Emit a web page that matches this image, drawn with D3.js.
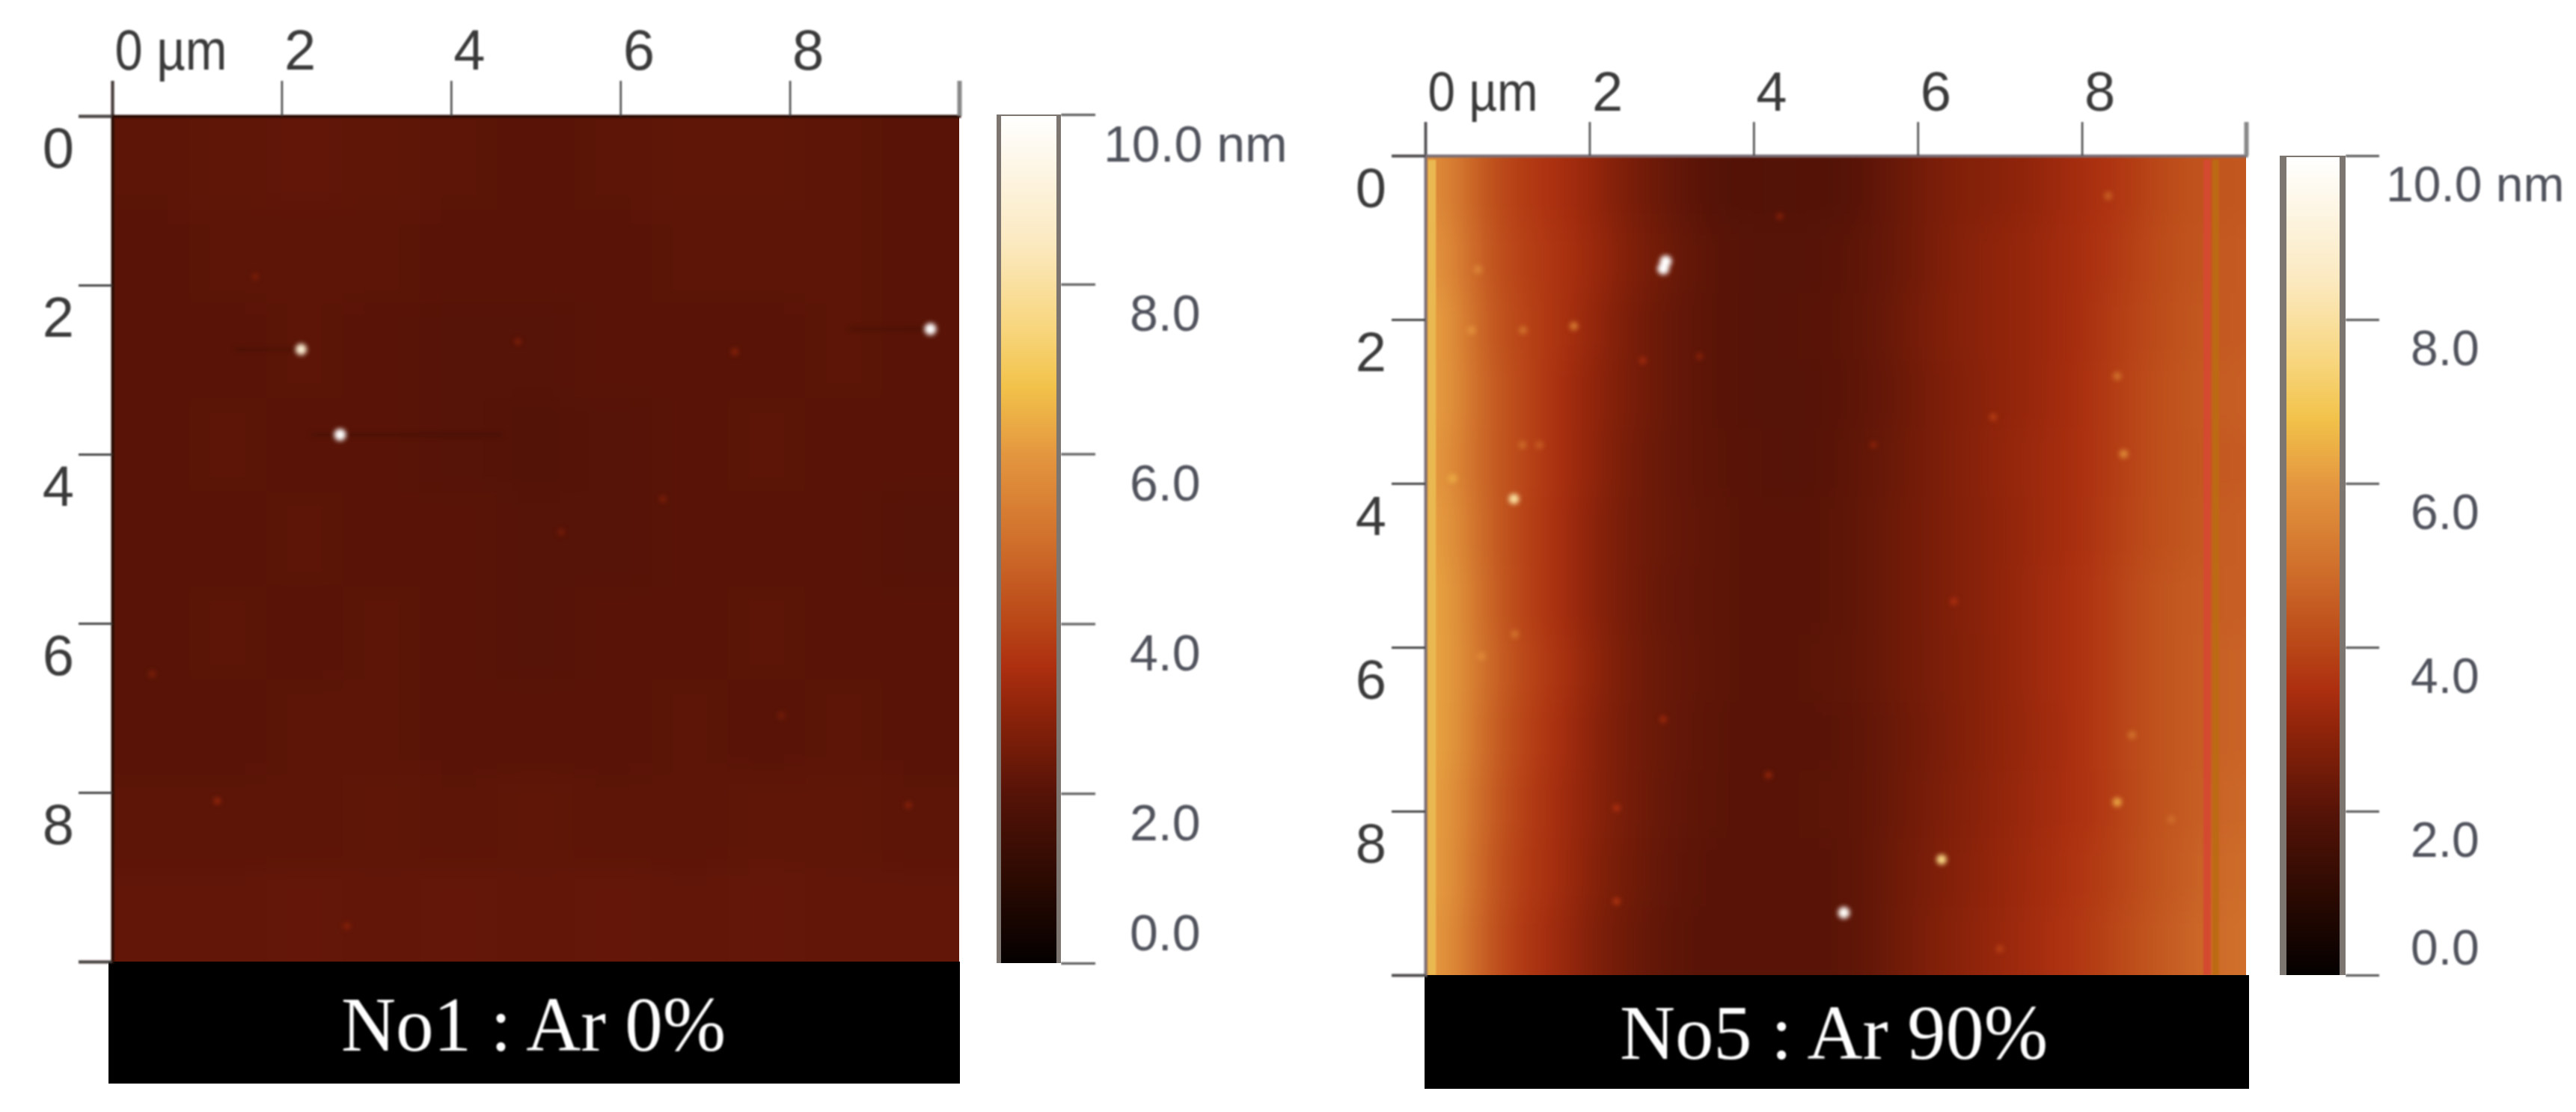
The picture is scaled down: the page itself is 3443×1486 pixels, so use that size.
<!DOCTYPE html>
<html>
<head>
<meta charset="utf-8">
<script src="https://cdn.jsdelivr.net/npm/d3@7/dist/d3.min.js"></script>
<style>
  body { margin: 0; background: #fff; }
  text { font-family: "Liberation Sans", Arial, sans-serif; }
  .caption { font-family: "Liberation Serif", "Times New Roman", serif; fill: #fff; }
</style>
</head>
<body>
<div id="chart"></div>
<script>
// ---- values ----
const titles = ["No1 : Ar 0%", "No5 : Ar 90%"]
const axisTicks = [0, 2, 4, 6, 8, 10]
const axisLabels = ["0 µm", "2", "4", "6", "8", ""]
const barTicks = [0, 2, 4, 6, 8, 10]
const barLabels = ["0.0", "2.0", "4.0", "6.0", "8.0", "10.0 nm"]

// colour bar: height (nm) -> colour
const rampValues = [0, 1, 2, 3, 3.5, 4, 5, 6, 6.8, 7.5, 8.5, 10]
const rampColors = ["#040000", "#2c0a02", "#561307", "#8f240a", "#ad2f10", "#b94617",
    "#d0702c", "#e4963f", "#f2c24a", "#f8d67e", "#fbe9c0", "#ffffff"]

// height (nm), rows top to bottom, columns left to right
const heightNo1 = [
    [2.10, 2.15, 2.20, 2.15, 2.10, 2.05, 2.10, 2.15, 2.15, 2.10, 2.05],
    [2.05, 2.10, 2.10, 2.10, 2.05, 2.05, 2.05, 2.10, 2.10, 2.10, 2.05],
    [2.05, 2.05, 2.10, 2.05, 2.00, 2.00, 2.05, 2.05, 2.05, 2.10, 2.05],
    [2.05, 2.10, 2.05, 2.05, 2.00, 1.95, 2.00, 2.05, 2.10, 2.05, 2.05],
    [2.05, 2.05, 2.10, 2.05, 2.05, 2.00, 2.00, 2.05, 2.05, 2.05, 2.00],
    [2.05, 2.10, 2.05, 2.10, 2.05, 2.00, 2.05, 2.05, 2.10, 2.05, 2.05],
    [2.05, 2.05, 2.10, 2.10, 2.05, 2.05, 2.05, 2.10, 2.05, 2.10, 2.05],
    [2.10, 2.10, 2.10, 2.15, 2.10, 2.15, 2.10, 2.10, 2.15, 2.15, 2.10],
    [2.20, 2.20, 2.25, 2.20, 2.25, 2.20, 2.25, 2.20, 2.25, 2.20, 2.20]
]
const heightNo5 = [
    [5.8, 4.4, 3.8, 3.5, 3.1, 2.6, 2.3, 2.0, 1.9, 2.0, 1.9, 2.0, 2.3, 2.6, 2.8, 2.9, 3.1, 3.4, 3.6, 4.0, 4.3, 4.4],
    [6.0, 4.5, 3.9, 3.6, 3.2, 2.7, 2.4, 2.1, 2.0, 2.0, 2.0, 2.1, 2.3, 2.6, 2.9, 3.0, 3.2, 3.4, 3.7, 4.1, 4.3, 4.5],
    [6.2, 4.6, 4.0, 3.6, 3.1, 2.6, 2.3, 2.1, 2.0, 2.0, 2.05, 2.1, 2.35, 2.65, 2.9, 3.0, 3.2, 3.4, 3.8, 4.1, 4.4, 4.5],
    [6.2, 4.7, 4.1, 3.5, 3.0, 2.6, 2.3, 2.1, 2.0, 2.0, 2.0, 2.1, 2.3, 2.6, 2.85, 3.0, 3.2, 3.45, 3.8, 4.2, 4.4, 4.6],
    [6.1, 4.7, 4.1, 3.5, 3.0, 2.5, 2.3, 2.1, 2.05, 2.0, 2.0, 2.15, 2.35, 2.6, 2.85, 3.05, 3.25, 3.45, 3.8, 4.2, 4.4, 4.5],
    [6.2, 4.8, 4.0, 3.5, 2.9, 2.5, 2.3, 2.15, 2.05, 2.05, 2.05, 2.15, 2.4, 2.6, 2.85, 3.0, 3.25, 3.45, 3.85, 4.2, 4.4, 4.6],
    [6.3, 4.9, 4.0, 3.5, 2.9, 2.5, 2.25, 2.15, 2.05, 2.05, 2.05, 2.15, 2.4, 2.6, 2.85, 3.0, 3.3, 3.5, 3.9, 4.3, 4.5, 4.6],
    [6.3, 5.0, 4.1, 3.6, 3.0, 2.5, 2.3, 2.15, 2.05, 2.05, 2.1, 2.15, 2.4, 2.6, 2.8, 3.0, 3.3, 3.5, 3.9, 4.3, 4.5, 4.7],
    [6.3, 4.9, 4.0, 3.5, 2.9, 2.5, 2.3, 2.1, 2.05, 2.05, 2.05, 2.1, 2.35, 2.55, 2.8, 3.0, 3.25, 3.5, 3.9, 4.3, 4.5, 4.7],
    [6.2, 4.8, 3.9, 3.4, 2.9, 2.5, 2.25, 2.1, 2.05, 2.05, 2.1, 2.1, 2.35, 2.6, 2.85, 3.05, 3.3, 3.5, 3.85, 4.3, 4.5, 4.8],
    [6.2, 4.7, 3.8, 3.4, 2.8, 2.45, 2.2, 2.05, 2.05, 2.05, 2.05, 2.1, 2.4, 2.65, 2.9, 3.1, 3.35, 3.6, 3.9, 4.3, 4.6, 4.9],
    [6.1, 4.6, 3.7, 3.3, 2.7, 2.4, 2.1, 2.05, 2.05, 2.05, 2.05, 2.1, 2.4, 2.7, 2.95, 3.15, 3.4, 3.65, 4.0, 4.4, 4.7, 5.0]
]

// particles: x (µm), y (µm), height (nm)
const spotsNo1X = [2.23, 2.69, 9.66, 1.24, 9.40, 2.77, 1.69, 4.79, 7.35, 6.50, 5.30, 0.47, 7.90]
const spotsNo1Y = [2.76, 3.77, 2.52, 8.10, 8.15, 9.58, 1.90, 2.67, 2.79, 4.53, 4.92, 6.60, 7.09]
const spotsNo1H = [9.0, 10, 10, 3.1, 2.9, 2.9, 2.7, 2.7, 2.9, 2.7, 2.6, 2.7, 2.6]

const spotsNo5X = [2.93, 2.90, 1.81, 1.19, 1.08, 2.65, 0.64, 1.18, 1.39, 0.33, 0.56, 3.34, 4.32, 8.51, 6.92, 5.46,
    8.43, 8.32, 2.33, 2.33, 2.90, 4.18, 0.68, 1.09, 5.10, 6.29, 8.43, 7.00, 9.09, 6.44, 8.61]
const spotsNo5Y = [1.29, 1.38, 2.08, 2.13, 4.19, 2.50, 1.39, 3.53, 3.53, 3.94, 2.13, 2.45, 0.74, 3.64, 3.19, 3.53,
    2.69, 0.49, 7.96, 9.10, 6.88, 7.56, 6.11, 5.84, 9.24, 8.59, 7.89, 9.68, 8.10, 5.44, 7.07]
const spotsNo5H = [10, 10, 5.2, 5.0, 8.0, 3.3, 5.5, 4.8, 4.5, 6.3, 5.8, 2.9, 2.8, 5.6, 3.8, 2.9,
    5.0, 4.6, 3.5, 3.6, 3.2, 3.1, 5.6, 5.0, 9.8, 7.6, 6.2, 3.9, 4.9, 3.5, 5.0]

// dark scan streaks beside the particles of No1: from x, to x, y (µm)
const streakFrom = [1.45, 2.35, 8.70]
const streakTo = [2.20, 4.60, 9.60]
const streakY = [2.76, 3.77, 2.52]

// scanner stripes along the edges of No5: from x, to x (µm)
const stripeFrom = [0.03, 9.48, 9.59]
const stripeTo = [0.13, 9.57, 9.67]
const stripeColors = ["#eab850", "#d44a30", "#bd6a14"]

// ---- layout ----
const width = 3443
const height = 1486

const panels = [
    {
        id: "no1", title: titles[0], grid: heightNo1,
        spotX: spotsNo1X, spotY: spotsNo1Y, spotH: spotsNo1H,
        left: 150, right: 1282, top: 155, bottom: 1285,
        box: { x0: 145, x1: 1283, y1: 1448 },
        caption: { x: 456, y: 1404, len: 514 },
        axisColor: "#2b0d05", tickTop: 47,
        labelY: 93, fontSize: 76, unitLen: 150, yLabelRight: 99,
        bar: { x0: 1332, x1: 1338, x2: 1412, x3: 1418, top: 153, bottom: 1287, tick: 46,
               labelX: 1510, topLabelX: 1475, fontSize: 68, up: 18, down: 62 }
    },
    {
        id: "no5", title: titles[1], grid: heightNo5,
        spotX: spotsNo5X, spotY: spotsNo5Y, spotH: spotsNo5H,
        left: 1905, right: 3002, top: 208, bottom: 1303,
        box: { x0: 1904, x1: 3006, y1: 1455 },
        caption: { x: 2165, y: 1415, len: 572 },
        axisColor: "#7a7078", tickTop: 45,
        labelY: 148, fontSize: 74, unitLen: 147, yLabelRight: 1853,
        bar: { x0: 3047, x1: 3056, x2: 3127, x3: 3135, top: 208, bottom: 1303, tick: 45,
               labelX: 3222, topLabelX: 3189, fontSize: 66, up: 15, down: 60 }
    }
]

const svg = d3.select("div#chart")
    .append("svg")
    .attr("width", width)
    .attr("height", height)
    .style("display", "block")

const ramp = d3.scaleLinear().domain(rampValues).range(rampColors)
const spotSize = d3.scaleLinear().domain([2.5, 10]).range([4.5, 8])

const defs = svg.append("defs")
addBlur("heatBlur", "30 20")
addBlur("spotBlur", "3")
addBlur("soft", "0.9")

function addBlur(id, dev) {
    defs.append("filter")
        .attr("id", id)
        .attr("filterUnits", "userSpaceOnUse")
        .attr("x", 0).attr("y", 0).attr("width", width).attr("height", height)
        .attr("color-interpolation-filters", "sRGB")
        .append("feGaussianBlur")
        .attr("stdDeviation", dev)
}

panels.forEach(drawPanel)

function drawPanel(p) {
    const x = d3.scaleLinear().domain([0, 10]).range([p.left, p.right])
    const y = d3.scaleLinear().domain([0, 10]).range([p.top, p.bottom])

    defs.append("clipPath").attr("id", "clip-" + p.id)
        .append("rect")
        .attr("x", p.left).attr("y", p.top)
        .attr("width", p.right - p.left).attr("height", p.bottom - p.top)

    const plot = svg.append("g").attr("clip-path", `url(#clip-${p.id})`)

    // height map cells, blurred together, edge cells run past the clip so the blur keeps its colour
    const cols = d3.range(p.grid[0].length)
    const rows = d3.range(p.grid.length)
    const colBand = d3.scaleBand().domain(cols).range([p.left, p.right])
    const rowBand = d3.scaleBand().domain(rows).range([p.top, p.bottom])
    const over = 120
    const cells = rows.flatMap(r => cols.map(c => ({ r, c, v: p.grid[r][c] })))

    plot.append("g").attr("filter", "url(#heatBlur)")
        .selectAll("rect").data(cells).join("rect")
        .attr("x", d => colBand(d.c) - (d.c === 0 ? over : 0))
        .attr("y", d => rowBand(d.r) - (d.r === 0 ? over : 0))
        .attr("width", d => colBand.bandwidth() + 1 + (d.c === 0 || d.c === cols.length - 1 ? over : 0))
        .attr("height", d => rowBand.bandwidth() + 1 + (d.r === 0 || d.r === rows.length - 1 ? over : 0))
        .attr("fill", d => ramp(d.v))

    if (p.id === "no5") {
        plot.append("g").attr("filter", "url(#soft)")
            .selectAll("rect").data(stripeFrom).join("rect")
            .attr("x", d => x(d))
            .attr("y", y(0.05))
            .attr("width", (d, i) => x(stripeTo[i]) - x(d))
            .attr("height", y(10) - y(0.05))
            .attr("fill", (d, i) => stripeColors[i])
    } else {
        plot.append("g").attr("filter", "url(#spotBlur)")
            .selectAll("line").data(streakFrom).join("line")
            .attr("x1", d => x(d))
            .attr("x2", (d, i) => x(streakTo[i]))
            .attr("y1", (d, i) => y(streakY[i]))
            .attr("y2", (d, i) => y(streakY[i]))
            .attr("stroke", ramp(1.2))
            .attr("stroke-width", 4)
            .attr("stroke-opacity", 0.45)
    }

    plot.append("g").attr("filter", "url(#spotBlur)")
        .selectAll("circle").data(p.spotX).join("circle")
        .attr("cx", d => x(d))
        .attr("cy", (d, i) => y(p.spotY[i]))
        .attr("r", (d, i) => spotSize(p.spotH[i]))
        .attr("fill", (d, i) => ramp(p.spotH[i]))

    // caption strip
    svg.append("rect")
        .attr("x", p.box.x0).attr("y", p.bottom)
        .attr("width", p.box.x1 - p.box.x0).attr("height", p.box.y1 - p.bottom)
        .attr("fill", "#000")
    svg.append("text")
        .attr("class", "caption")
        .attr("x", p.caption.x).attr("y", p.caption.y)
        .attr("font-size", 104)
        .attr("textLength", p.caption.len)
        .attr("lengthAdjust", "spacingAndGlyphs")
        .attr("filter", "url(#soft)")
        .text(p.title)

    // axes
    const xAxis = d3.axisTop(x).tickValues(axisTicks)
        .tickFormat((d, i) => axisLabels[i]).tickSize(p.tickTop).tickPadding(0)
    const yAxis = d3.axisLeft(y).tickValues(axisTicks)
        .tickFormat((d, i) => axisLabels[i].replace(" µm", "")).tickSize(45).tickPadding(0)

    const axisG = svg.append("g").attr("filter", "url(#soft)")

    const top = axisG.append("g").attr("transform", `translate(0,${p.top})`).call(xAxis)
    top.select(".domain").attr("stroke", p.axisColor).attr("stroke-width", 4)
    top.selectAll(".tick line").attr("stroke", "#444").attr("stroke-width", 2.5)
    top.selectAll(".tick").filter(d => d === 10).select("line").attr("stroke", "#888").attr("stroke-width", 6)
    top.selectAll(".tick text")
        .attr("text-anchor", "start")
        .attr("x", 3)
        .attr("y", p.labelY - p.top)
        .attr("dy", 0)
        .attr("font-size", p.fontSize)
        .attr("fill", "#3a3a3a")
    top.selectAll(".tick").filter(d => d === 0).select("text")
        .attr("textLength", p.unitLen)
        .attr("lengthAdjust", "spacingAndGlyphs")

    const side = axisG.append("g").attr("transform", `translate(${p.left},0)`).call(yAxis)
    side.select(".domain").attr("stroke", p.axisColor).attr("stroke-width", 4)
    side.selectAll(".tick line").attr("stroke", "#444").attr("stroke-width", 3)
    side.selectAll(".tick text")
        .attr("x", p.yLabelRight - p.left)
        .attr("y", 68)
        .attr("dy", 0)
        .attr("font-size", p.fontSize)
        .attr("fill", "#3a3a3a")

    drawBar(p)
}

function drawBar(p) {
    const b = p.bar
    const yBar = d3.scaleLinear().domain([0, 10]).range([b.bottom, b.top])
    const gradId = "bar-" + p.id

    defs.append("linearGradient").attr("id", gradId)
        .attr("x1", 0).attr("x2", 0).attr("y1", 1).attr("y2", 0)
        .selectAll("stop").data(rampValues).join("stop")
        .attr("offset", d => d / 10)
        .attr("stop-color", d => ramp(d))

    svg.append("rect")
        .attr("x", b.x0).attr("y", b.top)
        .attr("width", b.x3 - b.x0).attr("height", b.bottom - b.top)
        .attr("fill", "#7d7570")
    svg.append("rect")
        .attr("x", b.x1).attr("y", b.top + 2)
        .attr("width", b.x2 - b.x1).attr("height", b.bottom - b.top - 2)
        .attr("fill", `url(#${gradId})`)

    const axis = d3.axisRight(yBar).tickValues(barTicks)
        .tickFormat((d, i) => barLabels[i]).tickSize(b.tick).tickPadding(0)

    const g = svg.append("g")
        .attr("transform", `translate(${b.x3},0)`)
        .attr("filter", "url(#soft)")
        .call(axis)
    g.select(".domain").remove()
    g.selectAll(".tick line").attr("stroke", "#555").attr("stroke-width", 3)
    g.selectAll(".tick text")
        .attr("x", d => (d === 10 ? b.topLabelX : b.labelX) - b.x3)
        .attr("y", d => d === 0 ? -b.up : b.down)
        .attr("dy", 0)
        .attr("font-size", b.fontSize)
        .attr("fill", "#50525c")
}
</script>
</body>
</html>
